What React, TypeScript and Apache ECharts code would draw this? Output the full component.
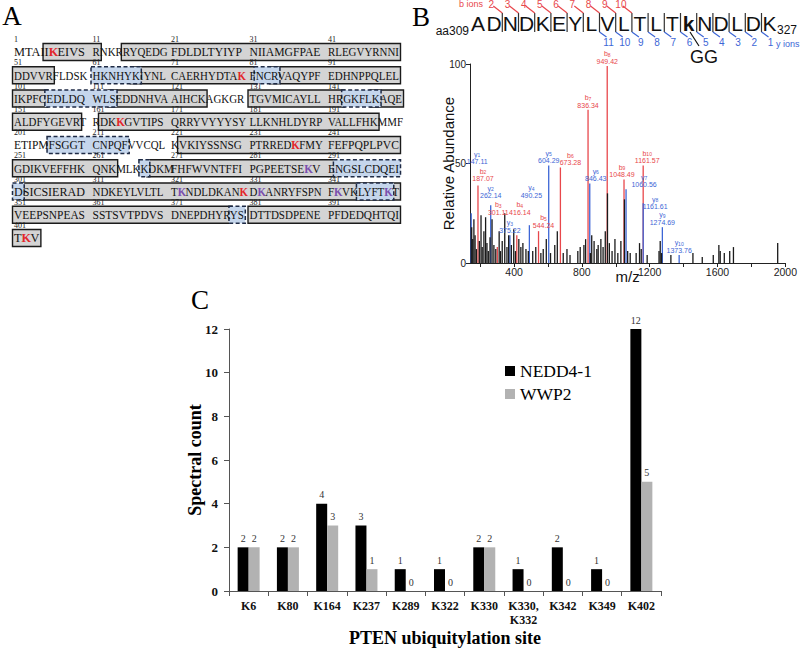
import React, { useEffect, useRef } from "react";
import * as echarts from "echarts";

// ---------------- Panel C data ----------------
const siteCategories = ["K6", "K80", "K164", "K237", "K289", "K322", "K330", "K330,\nK332", "K342", "K349", "K402"];
const nedd4Counts = [2, 2, 4, 3, 1, 1, 2, 1, 2, 1, 12];
const wwp2Counts = [2, 2, 3, 1, 0, 0, 2, 0, 0, 0, 5];
const seriesNames = ["NEDD4-1", "WWP2"];

// ---------------- Panel B data ----------------
const spectrumLabelTicks = [400, 800, 1200, 1600, 2000];
const spectrumTicks = [200, 400, 600, 800, 1000, 1200, 1400, 1600, 1800, 2000];
const bIonNames = ["b2", "b3", "b4", "b5", "b6", "b7", "b8", "b9", "b10"];
const bIonMz = [187.07, 301.11, 416.14, 544.24, 673.28, 836.34, 949.42, 1048.49, 1161.57];
const bIonAbundance = [39, 8, 14, 16, 48, 77, 99, 42, 49];
const yIonNames = ["y1", "y2", "y3", "y4", "y5", "y6", "y7", "y8", "y9", "y10"];
const yIonMz = [147.11, 262.14, 375.22, 490.25, 604.29, 846.43, 1060.56, 1161.61, 1274.69, 1373.76];
const yIonAbundance = [25, 29, 14, 19, 49, 40, 37, 30, 18, 4];
const otherPeakMz = [
  150, 156, 163, 170, 178, 195, 205, 212, 222, 232, 240, 248, 258, 270, 281, 292, 312, 320, 330, 345,
  358, 368, 384, 398, 408, 428, 440, 452, 470, 484, 510, 528, 558, 572, 590, 615, 640, 655, 690, 712,
  730, 776, 790, 812, 822, 850, 858, 872, 888, 896, 912, 925, 938, 951, 962, 978, 995, 1012, 1030, 1051,
  1070, 1085, 1120, 1140, 1150, 1185, 1255, 1262, 1270, 1325, 1455, 1510, 1575, 1608, 1616, 1640, 1672, 1694, 1955,
];
const otherPeakAbundance = [
  18, 12, 22, 14, 7, 11, 24, 8, 16, 23, 10, 6, 13, 22, 9, 7, 16, 6, 11, 25,
  8, 14, 9, 17, 6, 12, 8, 10, 7, 6, 6, 8, 5, 7, 12, 5, 9, 16, 5, 7,
  4, 6, 8, 9, 12, 5, 14, 11, 7, 9, 12, 8, 16, 35, 10, 6, 12, 5, 11, 32,
  6, 5, 5, 10, 7, 4, 6, 11, 5, 4, 5, 3, 4, 9, 6, 5, 6, 8, 10,
];
// label nudges (px) so that the annotations sit where the reference shows them
const spectrumLabelOffsets: Record<string, [number, number]> = {
  y1: [6, -47],
  b2: [5, -2],
  y2: [0, -5],
  b3: [1, -30],
  b4: [3, -18],
  y4: [2, -25],
  b5: [5, -1],
  b6: [10, 0],
  y6: [6, 0],
  b9: [-2, 0],
  y7: [18, 0],
  y8: [12, 8],
  b10: [4, 0],
};
const peptideResidues = ["A", "D", "N", "D", "K", "E", "Y", "L", "V", "L", "T", "L", "T", "k", "N", "D", "L", "D", "K"];

// ---------------- Panel A data ----------------
const ptenBlocks = [
  "MTAIIKEIVS", "RNKRRYQEDG", "FDLDLTYIYP", "NIIAMGFPAE", "RLEGVYRNNI",
  "DDVVRFLDSK", "HKNHYKIYNL", "CAERHYDTAK", "FNCRVAQYPF", "EDHNPPQLEL",
  "IKPFCEDLDQ", "WLSEDDNHVA", "AIHCKAGKGR", "TGVMICAYLL", "HRGKFLKAQE",
  "ALDFYGEVRT", "RDKKGVTIPS", "QRRYVYYYSY", "LLKNHLDYRP", "VALLFHKMMF",
  "ETIPMFSGGT", "CNPQFVVCQL", "KVKIYSSNSG", "PTRREDKFMY", "FEFPQPLPVC",
  "GDIKVEFFHK", "QNKMLKKDKM", "FHFWVNTFFI", "PGPEETSEKV", "ENGSLCDQEI",
  "DSICSIERAD", "NDKEYLVLTL", "TKNDLDKANK", "DKANRYFSPN", "FKVKLYFTKT",
  "VEEPSNPEAS", "SSTSVTPDVS", "DNEPDHYRYS", "DTTDSDPENE", "PFDEDQHTQI",
  "TKV",
];
const grayRanges: [number, number][] = [
  [5, 11], [15, 50], [51, 55], [66, 81], [84, 100], [101, 105], [113, 125], [131, 142], [147, 150],
  [151, 159], [162, 197], [222, 250], [251, 263], [268, 291], [302, 350], [351, 378], [381, 400], [401, 403],
];
const blueRanges: [number, number][] = [
  [61, 66], [82, 84], [106, 113], [143, 147], [206, 215], [267, 267], [292, 300], [301, 301], [345, 349], [379, 380],
];
const redResidues = [6, 80, 164, 237, 330, 402];
const purpleResidues = [289, 322, 332, 342, 349];

const SERIF = "'Liberation Serif', 'Times New Roman', serif";
const SANS = "'Liberation Sans', Arial, sans-serif";

function makeMeasure(font: string) {
  const ctx = document.createElement("canvas").getContext("2d");
  return (s: string) => {
    if (!ctx) return s.length * 7;
    ctx.font = font;
    return ctx.measureText(s).width;
  };
}

function txt(x: number, y: number, text: string, o: any = {}) {
  return {
    type: "text",
    x,
    y,
    z: o.z ?? 10,
    scaleX: o.scaleX ?? 1,
    style: {
      text,
      fontSize: o.fontSize ?? 12,
      fontFamily: o.fontFamily ?? SERIF,
      fontWeight: o.fontWeight ?? "normal",
      fill: o.fill ?? "#000",
      textAlign: o.align ?? "left",
      textVerticalAlign: o.valign ?? "middle",
      align: o.align ?? "left",
      verticalAlign: o.valign ?? "middle",
    },
  };
}

function buildPanelA(): any[] {
  const FS = 13;
  const BLOCK_W = 71;
  const X0 = 14;
  const COL = 78.5;
  const Y0 = 52;
  const ROW = 23.25;
  const mNormal = makeMeasure(`${FS}px 'Liberation Serif'`);
  const els: any[] = [];
  const rowY = (row: number) => Y0 + ROW * row;
  const scaleOf = (b: number) => {
    const block = ptenBlocks[b];
    if (block.length < 10) return 0.95;
    return Math.max(0.84, Math.min(1.05, BLOCK_W / mNormal(block)));
  };
  const info = (r: number) => {
    const i = r - 1;
    const b = Math.floor(i / 10);
    const pos = i % 10;
    const block = ptenBlocks[b];
    const sc = scaleOf(b);
    const col = b % 5;
    const x = X0 + COL * col + sc * mNormal(block.slice(0, pos));
    const w = sc * mNormal(block.charAt(pos));
    return { row: Math.floor(b / 5), x, w };
  };
  const addBoxes = (ranges: [number, number][], kind: string) => {
    ranges.forEach(([s, e]) => {
      let a = s;
      while (a <= e) {
        const row = Math.floor((a - 1) / 50);
        const rowEnd = Math.min(e, (row + 1) * 50);
        const p1 = info(a);
        const p2 = info(rowEnd);
        const x1 = p1.x - 1.5;
        const x2 = p2.x + p2.w + 1.5;
        els.push({
          type: "rect",
          z: kind === "gray" ? 1 : 2,
          shape: { x: x1, y: rowY(row) - 8.5, width: x2 - x1, height: 17 },
          style:
            kind === "gray"
              ? { fill: "#d4d4d4", stroke: "#1b1b1b", lineWidth: 1.4 }
              : { fill: "#c5d6ec", stroke: "#1e2a45", lineWidth: 1.5, lineDash: [4, 2.5] },
        });
        a = rowEnd + 1;
      }
    });
  };
  addBoxes(grayRanges, "gray");
  addBoxes(blueRanges, "blue");

  ptenBlocks.forEach((block, b) => {
    const row = Math.floor(b / 5);
    const col = b % 5;
    const colX = X0 + COL * col;
    const sc = scaleOf(b);
    els.push(txt(colX, rowY(row) - 12.5, String(b * 10 + 1), { fontSize: 8, fill: "#222" }));
    let runStart = 0;
    const colorOf = (k: number) => {
      const r = b * 10 + k + 1;
      if (redResidues.includes(r)) return "#e3262b";
      if (purpleResidues.includes(r)) return "#7b4fae";
      return "#111";
    };
    for (let k = 1; k <= block.length; k++) {
      if (k === block.length || colorOf(k) !== colorOf(runStart)) {
        const c = colorOf(runStart);
        els.push(
          txt(colX + sc * mNormal(block.slice(0, runStart)), rowY(row), block.slice(runStart, k), {
            fontSize: FS,
            scaleX: sc,
            fill: c,
            fontWeight: c === "#111" ? "normal" : "bold",
          })
        );
        runStart = k;
      }
    }
  });
  els.push(txt(12, 16, "A", { fontSize: 27, align: "center" }));
  return els;
}

function buildPanelBHeader(): any[] {
  const els: any[] = [];
  const X0 = 478;
  const STEP = 16.2;
  const Y = 23;
  peptideResidues.forEach((r, i) => {
    els.push(
      txt(X0 + STEP * i, Y, r, {
        fontFamily: SANS,
        fontSize: 21,
        align: "center",
        fontWeight: r === "k" ? "bold" : "normal",
        fill: "#111",
      })
    );
  });
  const sepX = (after: number) => X0 + STEP * (after + 0.5);
  for (let a = 1; a <= 17; a++) {
    els.push({ type: "line", z: 9, shape: { x1: sepX(a), y1: 13, x2: sepX(a), y2: 32 }, style: { stroke: "#333", lineWidth: 1.2 } });
  }
  for (let n = 2; n <= 10; n++) {
    const sx = sepX(n - 1);
    els.push({ type: "polyline", z: 9, shape: { points: [[sx, 13], [sx - 9, 6]] }, style: { stroke: "#e8474b", lineWidth: 1.2, fill: null } });
    els.push(txt(sx - 11, 4, String(n), { fontFamily: SANS, fontSize: 10, fill: "#e8474b", align: "center" }));
  }
  for (let n = 1; n <= 11; n++) {
    const sx = sepX(18 - n);
    els.push({ type: "polyline", z: 9, shape: { points: [[sx, 32], [sx + 7, 37]] }, style: { stroke: "#3d66d6", lineWidth: 1.2, fill: null } });
    els.push(txt(sx + 9, 42, String(n), { fontFamily: SANS, fontSize: 10, fill: "#3d66d6", align: "center" }));
  }
  els.push(txt(483, 4, "b ions", { fontFamily: SANS, fontSize: 9, fill: "#e8474b", align: "right" }));
  els.push(txt(776, 44, "y ions", { fontFamily: SANS, fontSize: 9, fill: "#3d66d6" }));
  els.push(txt(469, 31, "aa309", { fontFamily: SANS, fontSize: 12, align: "right", fill: "#111" }));
  els.push(txt(777, 30, "327", { fontFamily: SANS, fontSize: 12, fill: "#111" }));
  els.push({ type: "line", z: 9, shape: { x1: 690, y1: 32, x2: 699, y2: 46 }, style: { stroke: "#111", lineWidth: 1.2 } });
  els.push(txt(704, 57, "GG", { fontFamily: SANS, fontSize: 18, align: "center", fill: "#111" }));
  els.push(txt(421, 17, "B", { fontSize: 27, align: "center" }));
  return els;
}

function ionSeries(names: string[], mz: number[], ab: number[], color: string) {
  return {
    type: "bar",
    xAxisIndex: 1,
    yAxisIndex: 1,
    barWidth: 1.3,
    barGap: "-100%",
    itemStyle: { color },
    data: names.map((n, i) => ({
      name: n,
      value: [mz[i], ab[i]],
      label: spectrumLabelOffsets[n] ? { offset: spectrumLabelOffsets[n] } : undefined,
    })),
    label: {
      show: true,
      position: "top",
      distance: 1,
      lineHeight: 7.5,
      formatter: (p: any) => `{n|${p.name.charAt(0)}}{s|${p.name.slice(1)}}\n{v|${p.value[0].toFixed(2)}}`,
      rich: {
        n: { fontSize: 7, fontFamily: SANS, color, lineHeight: 7.5 },
        s: { fontSize: 5, fontFamily: SANS, color, verticalAlign: "bottom", lineHeight: 7.5 },
        v: { fontSize: 7, fontFamily: SANS, color, lineHeight: 7.5 },
      },
    },
  };
}

function countLabel() {
  return {
    show: true,
    position: "top",
    distance: 4,
    fontFamily: SERIF,
    fontSize: 10,
    color: "#333",
    textBorderWidth: 0,
  };
}

function buildOption(): any {
  return {
    animation: false,
    backgroundColor: "#fff",
    legend: {
      data: seriesNames,
      orient: "vertical",
      left: 500,
      top: 357,
      itemWidth: 10,
      itemHeight: 10,
      itemGap: 5,
      icon: "rect",
      selectedMode: false,
      textStyle: { fontFamily: SERIF, fontSize: 17.5, color: "#000" },
    },
    grid: [
      { left: 229, right: 139, top: 329, bottom: 58 },
      { left: 470, right: 5, top: 64, bottom: 386 },
    ],
    xAxis: [
      {
        type: "category",
        gridIndex: 0,
        data: siteCategories,
        axisLine: { lineStyle: { color: "#555", width: 1 } },
        axisTick: { show: true, length: 5, lineStyle: { color: "#555" } },
        axisLabel: { interval: 0, fontFamily: SERIF, fontWeight: "bold", fontSize: 12, color: "#111", margin: 8, lineHeight: 14 },
        name: "PTEN ubiquitylation site",
        nameLocation: "middle",
        nameGap: 38,
        nameMoveOverlap: false,
        nameTextStyle: { fontFamily: SERIF, fontWeight: "bold", fontSize: 18, color: "#000" },
      },
      {
        type: "value",
        gridIndex: 1,
        min: 140,
        max: 2000,
        axisLine: { show: true, lineStyle: { color: "#222" } },
        axisTick: { show: true, length: 4, customValues: spectrumTicks, lineStyle: { color: "#222" } },
        axisLabel: {
          customValues: spectrumLabelTicks,
          formatter: (v: number) => String(v),
          fontFamily: SANS,
          fontSize: 10.5,
          color: "#222",
          margin: 3,
        },
        splitLine: { show: false },
        name: "m/z",
        nameLocation: "middle",
        nameGap: 6,
        nameMoveOverlap: false,
        nameTextStyle: { fontFamily: SANS, fontSize: 15, color: "#111" },
      },
    ],
    yAxis: [
      {
        type: "value",
        gridIndex: 0,
        min: 0,
        max: 12,
        interval: 2,
        axisLine: { show: true, lineStyle: { color: "#555" } },
        axisTick: { show: true, length: 5, lineStyle: { color: "#555" } },
        splitLine: { show: false },
        axisLabel: { fontFamily: SERIF, fontWeight: "bold", fontSize: 13, color: "#111", margin: 11 },
        name: "Spectral count",
        nameLocation: "middle",
        nameGap: 25,
        nameRotate: 90,
        nameMoveOverlap: false,
        nameTextStyle: { fontFamily: SERIF, fontWeight: "bold", fontSize: 18, color: "#000" },
      },
      {
        type: "value",
        gridIndex: 1,
        min: 0,
        max: 100,
        interval: 50,
        axisLine: { show: true, lineStyle: { color: "#222" } },
        axisTick: { show: true, length: 4, lineStyle: { color: "#222" } },
        splitLine: { show: false },
        axisLabel: { fontFamily: SANS, fontSize: 10, color: "#222", margin: 4 },
        name: "Relative Abundance",
        nameLocation: "middle",
        nameGap: 14,
        nameRotate: 90,
        nameMoveOverlap: false,
        nameTextStyle: { fontFamily: SANS, fontSize: 15, color: "#111" },
      },
    ],
    graphic: [
      ...buildPanelA(),
      ...buildPanelBHeader(),
      txt(200, 300, "C", { fontSize: 27, align: "center" }),
    ],
    series: [
      {
        name: "NEDD4-1",
        type: "bar",
        xAxisIndex: 0,
        yAxisIndex: 0,
        data: nedd4Counts,
        barWidth: 11,
        barGap: "0%",
        itemStyle: { color: "#000" },
        label: countLabel(),
      },
      {
        name: "WWP2",
        type: "bar",
        xAxisIndex: 0,
        yAxisIndex: 0,
        data: wwp2Counts,
        barWidth: 11,
        barGap: "0%",
        itemStyle: { color: "#b2b2b2" },
        label: countLabel(),
      },
      ionSeries(bIonNames, bIonMz, bIonAbundance, "#e8474b"),
      ionSeries(yIonNames, yIonMz, yIonAbundance, "#3d66d6"),
      {
        name: "other",
        type: "bar",
        xAxisIndex: 1,
        yAxisIndex: 1,
        barWidth: 1.3,
        barGap: "-100%",
        itemStyle: { color: "#1a1a1a" },
        data: otherPeakMz.map((m, i) => [m, otherPeakAbundance[i]]),
      },
    ],
  };
}

export default function App() {
  const ref = useRef<HTMLDivElement>(null);
  useEffect(() => {
    if (!ref.current) return;
    const chart = echarts.init(ref.current, undefined, { renderer: "svg" });
    chart.setOption(buildOption());
    return () => chart.dispose();
  }, []);
  return (
    <div
      ref={ref}
      style={{ position: "fixed", left: 0, top: 0, width: 800, height: 649, background: "#fff" }}
    />
  );
}
